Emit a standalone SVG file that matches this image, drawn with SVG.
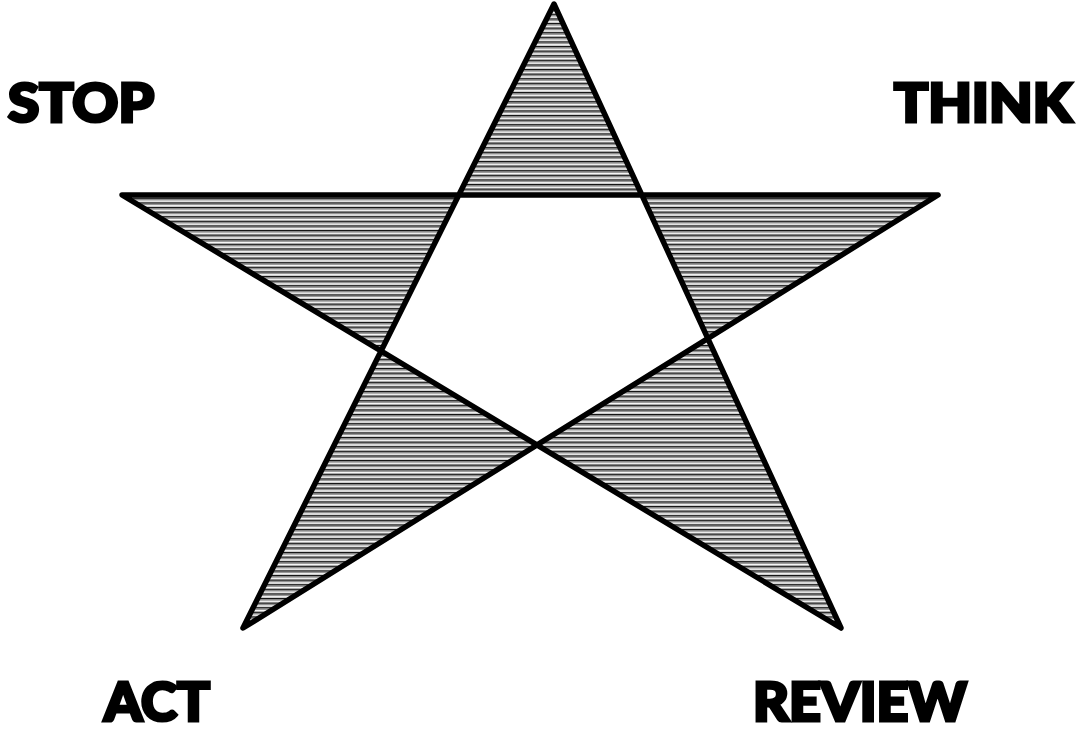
<svg xmlns="http://www.w3.org/2000/svg" width="1078" height="732" viewBox="0 0 1078 732">
  <style>
    .lbl { font-family: "Lato", "Inter", "Liberation Sans", sans-serif; font-weight: 900; font-size: 53px; fill: #000; stroke: #000; stroke-width: 3.2; stroke-linejoin: miter; }
    .star { fill: url(#hatch); fill-rule: evenodd; stroke: #000; stroke-width: 5.5; stroke-linejoin: round; stroke-linecap: round; }
  </style>
  <defs>
    <pattern id="hatch" patternUnits="userSpaceOnUse" x="0" y="0" width="8" height="4.6">
      <rect width="8" height="4.6" fill="#fff"/>
      <rect y="0" width="8" height="1.4" fill="#111"/>
      <rect y="1.4" width="8" height="1.2" fill="#888"/>
      <rect y="3.6" width="8" height="1" fill="#ccc"/>
    </pattern>
  </defs>
  <rect width="1078" height="732" fill="#fff"/>
  <g id="star">
    <path class="star" d="M554,4 L243,628 L938,195 L122,195 L841,628 Z"/>
  </g>
  <g id="stop"><text class="lbl" x="8" y="122" textLength="146" lengthAdjust="spacingAndGlyphs">STOP</text></g>
  <g id="think"><text class="lbl" x="894" y="122" textLength="178" lengthAdjust="spacingAndGlyphs">THINK</text></g>
  <g id="act"><text class="lbl" x="104" y="721" textLength="106" lengthAdjust="spacingAndGlyphs">ACT</text></g>
  <g id="review"><text class="lbl" x="753" y="721" textLength="214" lengthAdjust="spacingAndGlyphs">REVIEW</text></g>
</svg>
